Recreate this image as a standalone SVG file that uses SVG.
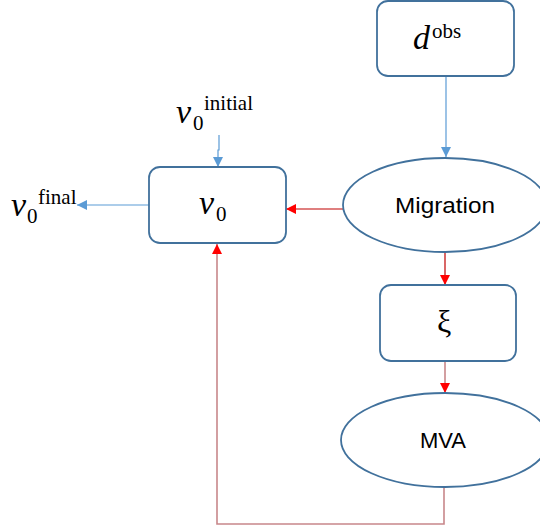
<svg xmlns="http://www.w3.org/2000/svg" width="540" height="530" viewBox="0 0 540 530">
<style>
.box{fill:#fff;stroke:#41719c;stroke-width:1.8}
.math{font-family:"Liberation Serif","DejaVu Serif",serif;fill:#000}
.mi{font-style:italic;font-size:34px}
.sc{font-size:21px}
.lbl{font-family:"Liberation Sans",Arial,sans-serif;font-size:22px;fill:#000;text-anchor:middle}
.blue{stroke:#5b9bd5;stroke-width:1.2;fill:none}
.red{stroke:#c00000;stroke-width:1.2;fill:none}
.pink{stroke:#c8878a;stroke-width:1.6;fill:none}
</style>
<defs>
<marker id="ab" viewBox="0 0 10 10" refX="10" refY="5" markerWidth="10" markerHeight="10" markerUnits="userSpaceOnUse" orient="auto"><path d="M0,0L10,5L0,10z" fill="#5b9bd5"/></marker>
<marker id="ar" viewBox="0 0 10 10" refX="10" refY="5" markerWidth="10" markerHeight="10" markerUnits="userSpaceOnUse" orient="auto"><path d="M0,0L10,5L0,10z" fill="#ff0000"/></marker>
</defs>
<rect width="540" height="530" fill="#fff"/>
<g id="connectors">
<path class="blue" d="M446,77V157" marker-end="url(#ab)"/>
<path class="blue" d="M219,135V150H218V167" marker-end="url(#ab)"/>
<path class="blue" d="M149,205H77" marker-end="url(#ab)"/>
<path class="red" d="M343,209H286" marker-end="url(#ar)"/>
<path class="red" d="M445,252V285" marker-end="url(#ar)"/>
<path class="pink" d="M445,361V393" marker-end="url(#ar)"/>
<path class="pink" d="M444,487V524H217V244" marker-end="url(#ar)"/>
</g>
<g id="dobs">
<rect class="box" x="377" y="1" width="137" height="75" rx="11"/>
<text class="math" x="413" y="49"><tspan class="mi">d</tspan><tspan class="sc" dx="2" y="38">obs</tspan></text>
</g>
<g id="v0initial">
<text class="math" x="176" y="123"><tspan class="mi">v</tspan><tspan class="sc" x="193" y="130">0</tspan></text>
<text class="math" x="204" y="110"><tspan class="sc">initial</tspan></text>
</g>
<g id="v0final">
<text class="math" x="11" y="216"><tspan class="mi">v</tspan><tspan class="sc" x="27" y="223">0</tspan></text>
<text class="math" x="38" y="204"><tspan class="sc">final</tspan></text>
</g>
<g id="v0">
<rect class="box" x="149" y="167" width="137" height="76" rx="11"/>
<text class="math" x="199" y="214"><tspan class="mi">v</tspan><tspan class="sc" x="216" y="221">0</tspan></text>
</g>
<g id="migration">
<ellipse class="box" cx="445" cy="205" rx="102" ry="47"/>
<text class="lbl" x="445" y="213" textLength="100" lengthAdjust="spacingAndGlyphs">Migration</text>
</g>
<g id="xi">
<rect class="box" x="380" y="285" width="136" height="76" rx="11"/>
<text class="math" x="437" y="332" style="font-size:32px">ξ</text>
</g>
<g id="mva">
<ellipse class="box" cx="445" cy="440" rx="104" ry="47"/>
<text class="lbl" x="443" y="448">MVA</text>
</g>
</svg>
